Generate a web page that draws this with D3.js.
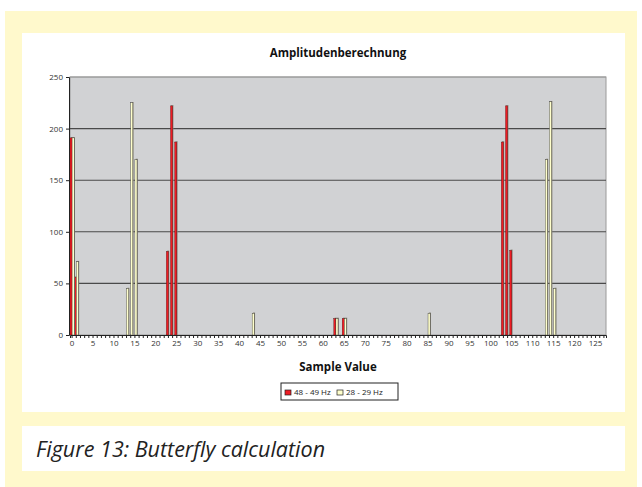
<!DOCTYPE html>
<html>
<head>
<meta charset="utf-8">
<script src="https://cdn.jsdelivr.net/npm/d3@7/dist/d3.min.js"></script>
<style>
  html, body { margin: 0; padding: 0; background: #ffffff; }
  svg { display: block; }
</style>
</head>
<body>
<svg id="chart" width="642" height="487"></svg>
<script>
// Sample indices of the 128-point transform
const samples = d3.range(128);

// Amplitudes that differ from zero, per sample index
const amp4849 = [
  [0, 191], [1, 56], [23, 81], [24, 222], [25, 187],
  [63, 16], [65, 16], [103, 187], [104, 222], [105, 82]
];
const amp2829 = [
  [0, 191], [1, 71], [13, 45], [14, 225], [15, 170], [43, 21],
  [63, 16], [65, 16], [85, 21], [113, 170], [114, 226], [115, 45]
];

const seriesNames = ["48 - 49 Hz", "28 - 29 Hz"];
const seriesColors = ["#ee1c24", "#ffffcc"];
const seriesEdges = ["#4a0a0a", "#1a1a1a"];
const yTicks = [0, 50, 100, 150, 200, 250];

const chartTitle = "Amplitudenberechnung";
const xTitle = "Sample Value";
const caption = "Figure 13: Butterfly calculation";

// Full 128-value series built from the sparse lists above
function fill(pairs) {
  const m = new Map(pairs);
  return samples.map(s => m.has(s) ? m.get(s) : 0);
}
const series = [fill(amp4849), fill(amp2829)];

const svg = d3.select("#chart");
const font = "'Open Sans', 'Noto Sans', sans-serif";

// Page frame: pale yellow surround with two white panels
svg.append("rect").attr("x", 5).attr("y", 11).attr("width", 632).attr("height", 476)
  .attr("fill", "#fff9cc");
svg.append("rect").attr("x", 22).attr("y", 33).attr("width", 603).attr("height", 379)
  .attr("fill", "#ffffff");
svg.append("rect").attr("x", 22).attr("y", 426).attr("width", 603).attr("height", 45)
  .attr("fill", "#ffffff");

svg.append("text").attr("x", 36).attr("y", 457)
  .attr("font-family", font).attr("font-style", "italic").attr("font-size", 21.5)
  .attr("fill", "#222").text(caption);

// Plot geometry
const plotL = 70, plotR = 606, plotT = 77, plotB = 335;

const x = d3.scaleBand().domain(samples).range([plotL, plotR]).padding(0);
const xs = d3.scaleBand().domain(d3.range(seriesNames.length)).range([0, x.bandwidth()]).padding(0);
const y = d3.scaleLinear().domain([0, 250]).range([plotB, plotT]);

// Plot area
svg.append("rect").attr("x", plotL).attr("y", plotT)
  .attr("width", plotR - plotL).attr("height", plotB - plotT)
  .attr("fill", "#d1d2d4").attr("stroke", "#9a9a9a").attr("stroke-width", 1);

// Horizontal gridlines
svg.append("g").selectAll("line").data(yTicks.filter(t => t > 0)).join("line")
  .attr("x1", plotL).attr("x2", plotR)
  .attr("y1", d => y(d)).attr("y2", d => y(d))
  .attr("stroke", d => d === 250 ? "#9a9a9a" : "#4a4a4a").attr("stroke-width", 1.1);

// Columns with a small dark side shadow
const groups = svg.append("g").selectAll("g").data(series).join("g");
groups.each(function(vals, si) {
  const g = d3.select(this);
  const pts = vals.map((v, i) => ({ i, v })).filter(d => d.v > 0);
  g.selectAll("rect.shadow").data(pts).join("rect").attr("class", "shadow")
    .attr("x", d => x(d.i) + xs(si) + 0.8)
    .attr("y", d => y(d.v) - 0.8)
    .attr("width", xs.bandwidth())
    .attr("height", d => plotB - y(d.v) + 0.8)
    .attr("fill", "#858176");
  g.selectAll("rect.bar").data(pts).join("rect").attr("class", "bar")
    .attr("x", d => x(d.i) + xs(si))
    .attr("y", d => y(d.v))
    .attr("width", xs.bandwidth())
    .attr("height", d => plotB - y(d.v))
    .attr("fill", seriesColors[si])
    .attr("stroke", seriesEdges[si]).attr("stroke-width", 0.35);
});

// Axes
const yAxis = svg.append("g").attr("transform", `translate(${plotL - 1},0)`)
  .call(d3.axisLeft(y).tickValues(yTicks).tickSize(3).tickPadding(3));
const xAxis = svg.append("g").attr("transform", `translate(0,${plotB})`)
  .call(d3.axisBottom(x).tickValues(samples).tickSize(3).tickPadding(2)
    .tickFormat(d => d % 5 === 0 ? d : ""));

[yAxis, xAxis].forEach(a => {
  a.select(".domain").attr("stroke", "#222");
  a.selectAll(".tick line").attr("stroke", "#222");
  a.selectAll("text").attr("font-family", font).attr("font-size", 8).attr("fill", "#333");
});

// Titles
svg.append("text").attr("x", 338).attr("y", 57).attr("text-anchor", "middle")
  .attr("font-family", font).attr("font-weight", "bold").attr("font-size", 11.5)
  .attr("fill", "#111").text(chartTitle);
svg.append("text").attr("x", 338).attr("y", 371).attr("text-anchor", "middle")
  .attr("font-family", font).attr("font-weight", "bold").attr("font-size", 11.5)
  .attr("fill", "#111").text(xTitle);

// Legend
const lg = svg.append("g").attr("transform", "translate(281,383)");
lg.append("rect").attr("width", 117).attr("height", 17)
  .attr("fill", "#ffffff").attr("stroke", "#222").attr("stroke-width", 1);
const itemX = [4, 56];
seriesNames.forEach((name, i) => {
  lg.append("rect").attr("x", itemX[i]).attr("y", 7).attr("width", 6).attr("height", 5)
    .attr("fill", seriesColors[i]).attr("stroke", "#222").attr("stroke-width", 0.7);
  lg.append("text").attr("x", itemX[i] + 9).attr("y", 12)
    .attr("font-family", font).attr("font-size", 8).attr("fill", "#222").text(name);
});
</script>
</body>
</html>
